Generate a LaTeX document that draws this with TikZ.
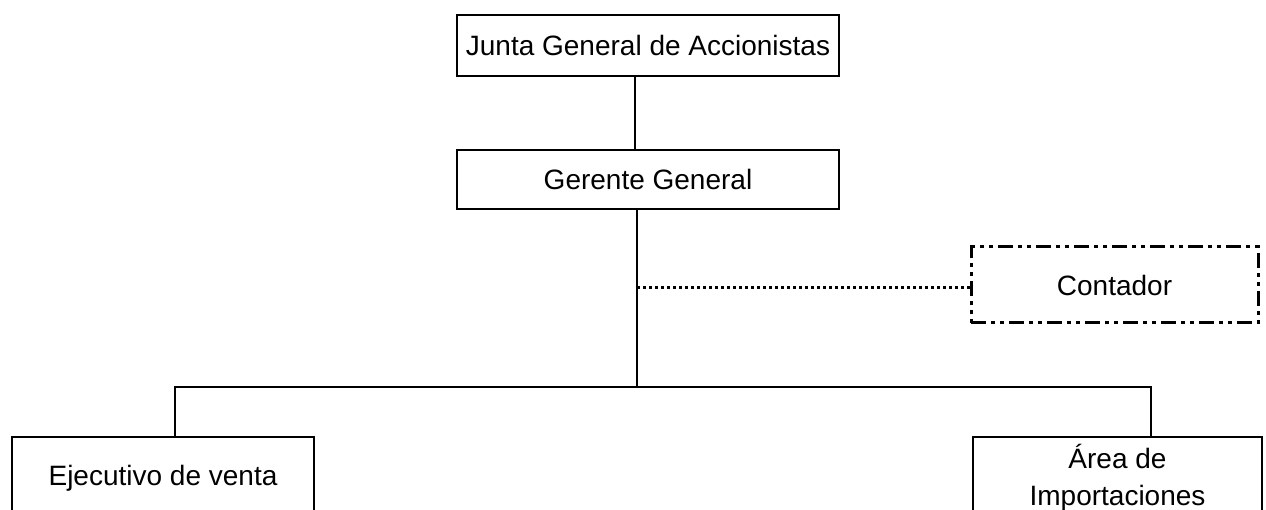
\documentclass[tikz,border=0pt]{standalone}
\usepackage{fontspec}
\setmainfont{Liberation Sans}
\begin{document}
\begin{tikzpicture}[x=1pt,y=-1pt,
    font=\fontsize{28}{37}\selectfont,
    box/.style={draw, line width=1.8pt, inner sep=0pt, align=center},
    dashbox/.style={draw, line width=3pt, inner sep=0pt, align=center,
        dash pattern=on 15pt off 5pt on 4pt off 5pt on 4pt off 5pt},
    link/.style={line width=1.8pt},
    dotline/.style={line width=3pt, dash pattern=on 3pt off 3pt}]
    \clip (0,0) rectangle (1266,510);
    \node[box, minimum width=382pt, minimum height=61pt] (junta) at (648,45.5) {Junta General de Accionistas};
    \node[box, minimum width=382pt, minimum height=59pt] (gerente) at (648,179.5) {Gerente General};
    \node[dashbox, minimum width=287pt, minimum height=76pt] (contador) at (1114.5,285) {Contador};
    \node[box, minimum width=302pt, minimum height=82pt] (ejecutivo) at (163,478) {Ejecutivo de venta};
    \node[box, minimum width=289pt, minimum height=82pt] (area) at (1117.5,478) {Área de\\Importaciones};
    \coordinate (split) at (637,387);
    \coordinate (staff) at (637,288);
    \draw[link] ([xshift=-13pt]junta.south) -- ([xshift=-13pt]gerente.north);
    \draw[link] ([xshift=-11pt]gerente.south) -- (split);
    \draw[dotline] (staff) -- (staff -| contador.west);
    \draw[link] (split) -| ([xshift=12pt]ejecutivo.north);
    \draw[link] (split) -| ([xshift=33.5pt]area.north);
\end{tikzpicture}
\end{document}
